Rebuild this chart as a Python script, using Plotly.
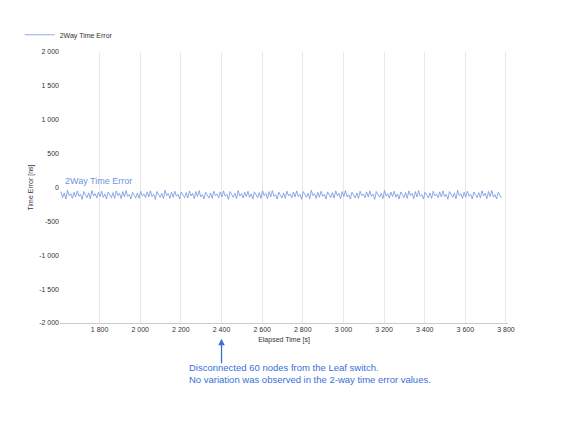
import plotly.graph_objects as go

start_time = 1610
step = 8
error_ns = [
-60,-150,-80,-170,-40,-120,-90,-160,-70,-140,-50,-130,-100,-175,-60,-110,-150,-80,-165,-45,
-125,-90,-155,-70,-135,-55,-145,-95,-170,-65,-115,-150,-75,-160,-50,-120,-85,-165,-60,-140,
-45,-130,-105,-170,-70,-110,-155,-80,-160,-55,-125,-95,-150,-65,-140,-50,-135,-100,-175,-60,
-115,-145,-85,-165,-40,-120,-90,-160,-70,-145,-55,-130,-100,-170,-65,-110,-150,-75,-155,-50,
-125,-85,-165,-60,-135,-45,-140,-105,-170,-70,-115,-155,-80,-160,-55,-120,-95,-150,-65,-140,
-50,-130,-100,-175,-60,-110,-145,-85,-165,-45,-125,-90,-155,-70,-135,-55,-145,-95,-170,-65,
-115,-150,-75,-160,-50,-120,-85,-165,-60,-140,-45,-130,-105,-170,-70,-110,-155,-80,-160,-55,
-125,-95,-150,-65,-140,-50,-135,-100,-175,-60,-115,-145,-85,-165,-40,-120,-90,-160,-70,-145,
-55,-130,-100,-170,-65,-110,-150,-75,-155,-50,-125,-85,-165,-60,-135,-45,-140,-105,-170,-70,
-115,-155,-80,-160,-55,-120,-95,-150,-65,-140,-50,-130,-100,-175,-60,-110,-145,-85,-165,-45,
-125,-90,-155,-70,-135,-55,-145,-95,-170,-65,-115,-150,-75,-160,-50,-120,-85,-165,-60,-140,
-45,-130,-105,-170,-70,-110,-155,-80,-160,-55,-125,-95,-150,-65,-140,-50,-135,-100,-175,-60,
-115,-145,-85,-165,-40,-120,-90,-160,-70,-145,-55,-130,-100,-170,-65,-110,-150,-75,-155,-50,
-125,-85,-165,-60,-135,-45,-140,-105,-170,-70,-115,-155
]
elapsed_s = [start_time + i * step for i in range(len(error_ns))]
x_ticks = [1800, 2000, 2200, 2400, 2600, 2800, 3000, 3200, 3400, 3600, 3800]
y_ticks = [2000, 1500, 1000, 500, 0, -500, -1000, -1500, -2000]

def fmt(v):
    return f"{v:,}".replace(",", " ")

fig = go.Figure(go.Scatter(x=elapsed_s, y=error_ns, mode="lines", name="2Way Time Error",
                           line=dict(color="#6e95e0", width=0.8)))
fig.update_layout(
    width=576, height=424, margin=dict(l=48, r=76, t=22, b=109),
    paper_bgcolor="white", plot_bgcolor="white",
    font=dict(family="Liberation Sans, Arial", size=7, color="#333"),
    showlegend=True,
    legend=dict(x=-0.09, y=1.01, xanchor="left", yanchor="bottom", orientation="h",
                font=dict(size=7), itemwidth=30),
    xaxis=dict(range=[1605, 3810], tickvals=x_ticks, ticktext=[fmt(v) for v in x_ticks],
               showgrid=True, gridcolor="#e8e8e8", zeroline=False, showline=True, linecolor="#ccc",
               title=dict(text="Elapsed Time [s]", font=dict(size=7), standoff=4)),
    yaxis=dict(range=[-2000, 2000], tickvals=y_ticks, ticktext=[fmt(v) for v in y_ticks],
               showgrid=False, zeroline=False,
               title=dict(text="Time Error [ns]", font=dict(size=7), standoff=4)),
    annotations=[
        dict(x=1620, y=0, xref="x", yref="y", text="2Way Time Error", showarrow=False,
             xanchor="left", yanchor="bottom", font=dict(size=9, color="#6e95e0")),
        dict(x=2400, y=-0.058, xref="x", yref="paper", ax=0, ay=26,
             text="", showarrow=True, arrowhead=2, arrowsize=1, arrowwidth=1.3, arrowcolor="#3a6fd8"),
        dict(x=2230, y=-0.135, xref="x", yref="paper", xanchor="left", yanchor="top", showarrow=False,
             align="left",
             text="Disconnected 60 nodes from the Leaf switch.<br>No variation was observed in the 2-way time error values.",
             font=dict(size=9.5, color="#3a6fd8")),
    ],
)
fig.write_html("out.html")
